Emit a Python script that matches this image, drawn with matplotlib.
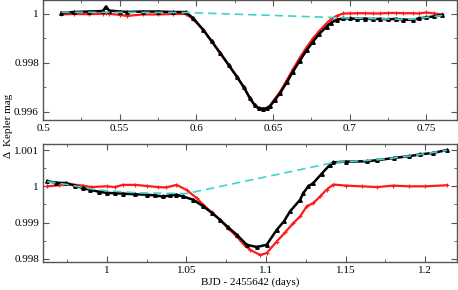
"""
plot.py

Two Kepler transit light curves (raw vs detrended) with the
out-of-transit trend shown as a dashed line.

Output:
  out.png
"""

import matplotlib.pyplot as plt
from matplotlib.ticker import MultipleLocator

plt.rcParams["font.family"] = ["Liberation Serif", "DejaVu Serif"]
plt.rcParams["font.size"] = 8

# ---- first transit (top panel) ----
top_x = [0.512, 0.520, 0.530, 0.539, 0.541, 0.543, 0.550, 0.555, 0.565, 0.575,
         0.585, 0.593, 0.598, 0.6045, 0.610, 0.6156, 0.621, 0.6264, 0.631,
         0.635, 0.638, 0.6405, 0.6437, 0.646, 0.648, 0.651, 0.6545, 0.659,
         0.663, 0.6675, 0.672, 0.676, 0.680, 0.6849, 0.688, 0.6914, 0.6957,
         0.700, 0.705, 0.710, 0.715, 0.720, 0.725, 0.730, 0.735, 0.741, 0.745,
         0.750, 0.755, 0.7604]
top_black = [1.00005, 1.00008, 1.00010, 1.00012, 1.00030, 1.00014, 1.00010,
             1.00008, 1.00010, 1.00010, 1.00008, 1.00008, 0.99982, 0.99935,
             0.99888, 0.99840, 0.99792, 0.99744, 0.99700, 0.99655, 0.99628,
             0.99615, 0.99613, 0.99616, 0.99624, 0.99648, 0.99676, 0.99722,
             0.99765, 0.99810, 0.99853, 0.99887, 0.99918, 0.99948, 0.99965,
             0.99976, 0.99982, 0.99982, 0.99980, 0.99981, 0.99979, 0.99980,
             0.99978, 0.99980, 0.99977, 0.99976, 0.99982, 0.99986, 0.99990,
             0.99996]
top_red = [0.99998, 1.00000, 0.99999, 1.00001, 1.00003, 1.00001, 0.99996,
           0.99992, 0.99998, 0.99998, 1.00000, 1.00000, 0.99978, 0.99935,
           0.99888, 0.99840, 0.99792, 0.99744, 0.99700, 0.99655, 0.99628,
           0.99615, 0.99613, 0.99616, 0.99626, 0.99652, 0.99682, 0.99730,
           0.99775, 0.99822, 0.99866, 0.99900, 0.99930, 0.99962, 0.99980,
           0.99992, 1.00002, 1.00002, 1.00003, 1.00003, 1.00002, 1.00002,
           1.00004, 1.00004, 1.00003, 1.00003, 1.00002, 1.00006, 1.00002,
           0.99998]
top_trend_x = [0.512, 0.593, 0.697, 0.720, 0.740, 0.7604]
top_trend = [1.00007, 1.00006, 0.99984, 0.99980, 0.99978, 0.99994]

# ---- second transit (bottom panel) ----
bot_x_black = [0.9626, 0.968, 0.9746, 0.980, 0.985, 0.9893, 0.995, 1.000,
               1.005, 1.0103, 1.018, 1.025, 1.030, 1.0354, 1.040, 1.0438,
               1.048, 1.0543, 1.0606, 1.066, 1.0711, 1.076, 1.0816, 1.0879,
               1.0942, 1.1004, 1.1067, 1.1115, 1.1151, 1.1214, 1.1235, 1.1266,
               1.1297, 1.135, 1.1403, 1.1423, 1.150, 1.1633, 1.170, 1.1801,
               1.190, 1.1969, 1.205, 1.2137]
bot_black = [1.00014, 1.00010, 1.00009, 1.00002, 0.99995, 0.99991, 0.99985,
             0.99982, 0.99981, 0.99980, 0.99978, 0.99977, 0.99975, 0.99972,
             0.99975, 0.99977, 0.99972, 0.99963, 0.99945, 0.99927, 0.99908,
             0.99888, 0.99867, 0.99839, 0.99833, 0.99839, 0.99880, 0.99905,
             0.99931, 0.99963, 0.99982, 1.00000, 1.00009, 1.00035, 1.00060,
             1.00066, 1.00068, 1.00069, 1.00072, 1.00078, 1.00083, 1.00088,
             1.00092, 1.00100]
bot_x_red = [0.9626, 0.970, 0.9788, 0.985, 0.990, 1.000, 1.005, 1.010, 1.018,
             1.025, 1.032, 1.0375, 1.0438, 1.0501, 1.0564, 1.0606, 1.066,
             1.0711, 1.076, 1.0816, 1.086, 1.090, 1.0964, 1.1004, 1.1067,
             1.112, 1.1172, 1.1214, 1.1256, 1.1297, 1.134, 1.1381, 1.1423,
             1.150, 1.160, 1.170, 1.180, 1.190, 1.200, 1.2137]
bot_red = [1.00000, 1.00003, 1.00005, 1.00002, 0.99998, 1.00000, 0.99998,
           1.00004, 1.00004, 1.00001, 0.99998, 0.99997, 1.00004, 0.99990,
           0.99968, 0.99949, 0.99928, 0.99908, 0.99885, 0.99862, 0.99840,
           0.99825, 0.99811, 0.99816, 0.99848, 0.99873, 0.99899, 0.99917,
           0.99945, 0.99954, 0.99972, 0.99991, 1.00005, 1.00002, 1.00000,
           0.99998, 1.00002, 1.00000, 1.00000, 1.00003]
bot_trend_x = [0.9626, 0.975, 0.990, 1.000, 1.020, 1.050, 1.143, 1.170, 1.190,
               1.2137]
bot_trend = [1.00013, 1.00005, 0.99993, 0.99988, 0.99982, 0.99980, 1.00066,
             1.00073, 1.00083, 1.00099]


def style_axes(ax, xmajor, ymajor):
    ax.xaxis.set_major_locator(MultipleLocator(xmajor))
    ax.xaxis.set_minor_locator(MultipleLocator(xmajor / 2))
    ax.yaxis.set_major_locator(MultipleLocator(ymajor))
    ax.yaxis.set_minor_locator(MultipleLocator(ymajor / 2))
    ax.tick_params(which="both", direction="in", top=True, right=True,
                   color="#555555", labelsize=8, pad=3)
    ax.tick_params(which="major", length=4)
    ax.tick_params(which="minor", length=2.5)
    for sp in ax.spines.values():
        sp.set_color("#555555")
        sp.set_linewidth(1.0)
    ax.yaxis.set_major_formatter(plt.FuncFormatter(lambda v, p: f"{v:g}"))
    ax.xaxis.set_major_formatter(plt.FuncFormatter(lambda v, p: f"{v:g}"))


def draw(ax, xr, red, xb, black, xt, trend):
    ax.plot(xr, red, color="#ff1a1a", lw=1.6, marker="+", ms=2.5, mew=0.8)
    ax.plot(xb, black, color="black", lw=1.8, marker="^", ms=2.5)
    ax.plot(xt, trend, color="#3fd3cc", lw=1.2, ls=(0, (5, 3)))


fig = plt.figure(figsize=(4.58, 2.9), dpi=100)
ax1 = fig.add_axes([0.094, 0.586, 0.904, 0.414])
ax2 = fig.add_axes([0.094, 0.097, 0.904, 0.407])

draw(ax1, top_x, top_red, top_x, top_black, top_trend_x, top_trend)
ax1.set_xlim(0.5, 0.77)
ax1.set_ylim(0.99567, 1.00057)
style_axes(ax1, 0.05, 0.002)

draw(ax2, bot_x_red, bot_red, bot_x_black, bot_black, bot_trend_x, bot_trend)
ax2.set_xlim(0.96, 1.22)
ax2.set_ylim(0.99792, 1.00117)
style_axes(ax2, 0.05, 0.001)
ax2.set_xlabel("BJD - 2455642 (days)", fontsize=8, labelpad=2)

fig.text(0.018, 0.566, "Δ  Kepler mag", rotation=90, ha="center",
         va="center", fontsize=8)

fig.savefig("out.png", dpi=100)
plt.close(fig)
